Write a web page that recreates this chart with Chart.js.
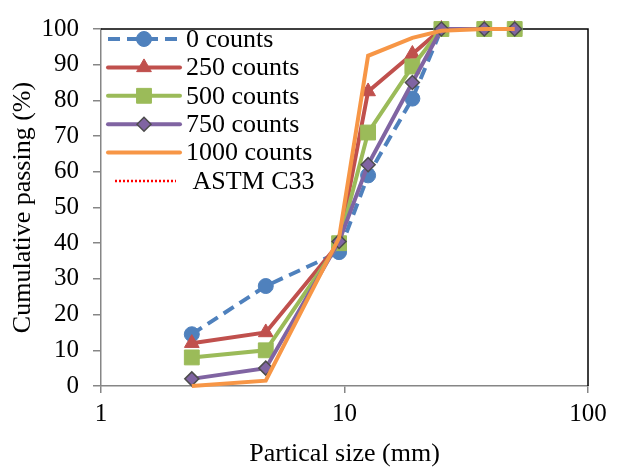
<!DOCTYPE html>
<html>
<head>
<meta charset="utf-8">
<script src="https://cdn.jsdelivr.net/npm/chart.js@4.4.1/dist/chart.umd.min.js"></script>
<style>
  body { margin: 0; background: #fff; }
  #wrap { width: 618px; height: 470px; }
</style>
</head>
<body>
<div id="wrap"><canvas id="gradChart" width="618" height="470"></canvas></div>
<script>
// sieve sizes (mm) and cumulative passing (%) for each number of counts
const sieveSizes = [2.36, 4.75, 9.5, 12.5, 19, 25, 37.5, 50];
const counts0 = [14.5, 28, 37.5, 59, 80.5, 100, 100, 100];
const counts250 = [12, 15, 40, 82.5, 93, 100, 100, 100];
const counts500 = [8, 10, 40, 71, 89.5, 100, 100, 100];
const counts750 = [2, 5, 40.5, 62, 85, 100, 100, 100];
const counts1000 = [0, 1.5, 41.5, 92.5, 97.5, 99.5, 100, 100];
const astmC33 = []; // limits not plotted, only listed in the legend
const seriesNames = ['0 counts', '250 counts', '500 counts', '750 counts', '1000 counts', ' ASTM C33'];
const xTickValues = [1, 10, 100];

const serif = "'Liberation Serif', 'Times New Roman', serif";
Chart.defaults.font.family = serif;
Chart.defaults.color = '#000';

function pts(vals) {
  return vals.map((v, i) => ({ x: sieveSizes[i], y: v }));
}

const datasets = [
  { label: seriesNames[0], data: pts(counts0), borderColor: '#4F81BD', backgroundColor: '#4F81BD',
    borderDash: [12, 7], pointStyle: 'circle', pointRadius: 7.5, pointBorderColor: '#4F81BD' },
  { label: seriesNames[1], data: pts(counts250), borderColor: '#C0504D', backgroundColor: '#C0504D',
    pointStyle: 'triangle', pointRadius: 8.5, pointBorderColor: '#C0504D' },
  { label: seriesNames[2], data: pts(counts500), borderColor: '#9BBB59', backgroundColor: '#9BBB59',
    pointStyle: 'rect', pointRadius: 10.5, pointBorderColor: '#9BBB59' },
  { label: seriesNames[3], data: pts(counts750), borderColor: '#8064A2', backgroundColor: '#8064A2',
    pointStyle: 'rectRot', pointRadius: 7, pointBorderColor: '#4d4d4d', pointBorderWidth: 1.5 },
  { label: seriesNames[4], data: pts(counts1000), borderColor: '#F79646', backgroundColor: '#F79646',
    pointRadius: 0 },
  { label: seriesNames[5], data: astmC33, borderColor: '#FF0000', backgroundColor: '#FF0000',
    borderDash: [2, 2], borderWidth: 2.5, pointRadius: 0 }
];
// later series are painted on top of earlier ones
datasets.forEach((d, i) => {
  d.order = datasets.length - i;
  d.clip = false;
  if (d.borderWidth === undefined) d.borderWidth = 4;
  if (d.pointBorderWidth === undefined) d.pointBorderWidth = 1;
  d.pointHoverRadius = d.pointRadius;
  d.tension = 0;
});

// black frame on top and right of the plot area
const frame = {
  id: 'frame',
  beforeDatasetsDraw(chart) {
    const { ctx, chartArea: a } = chart;
    ctx.save();
    ctx.strokeStyle = '#000';
    ctx.lineWidth = 1.5;
    ctx.beginPath();
    ctx.moveTo(a.left, a.top);
    ctx.lineTo(a.right, a.top);
    ctx.lineTo(a.right, a.bottom);
    ctx.stroke();
    ctx.restore();
  }
};

// legend with line sample + marker, drawn inside the plot
const inLegend = {
  id: 'inLegend',
  afterDraw(chart) {
    const ctx = chart.ctx;
    const x0 = 108, x1 = 180, y0 = 39, rowH = 28.4;
    ctx.save();
    chart.data.datasets.forEach((d, i) => {
      const y = y0 + i * rowH;
      ctx.save();
      ctx.strokeStyle = d.borderColor;
      ctx.lineWidth = d.borderWidth;
      ctx.lineCap = d.borderDash ? 'butt' : 'round';
      ctx.setLineDash(d.borderDash || []);
      ctx.beginPath();
      if (i === 5) { ctx.moveTo(x0 + 7, y); ctx.lineTo(x1 - 4, y); }
      else { ctx.moveTo(x0, y); ctx.lineTo(x1, y); }
      ctx.stroke();
      ctx.restore();
      if (d.pointRadius > 0) {
        ctx.fillStyle = d.backgroundColor;
        ctx.strokeStyle = d.pointBorderColor;
        ctx.lineWidth = d.pointBorderWidth;
        Chart.helpers.drawPoint(ctx, { pointStyle: d.pointStyle, radius: d.pointRadius, borderWidth: d.pointBorderWidth, rotation: 0 },
          (x0 + x1) / 2, y);
      }
      ctx.fillStyle = '#000';
      ctx.font = '26px ' + serif;
      ctx.textBaseline = 'middle';
      ctx.textAlign = 'left';
      ctx.fillText(d.label, 186, y + 1);
    });
    ctx.restore();
  }
};

new Chart(document.getElementById('gradChart'), {
  type: 'line',
  data: { datasets: datasets },
  plugins: [frame, inLegend],
  options: {
    responsive: false,
    animation: false,
    layout: { padding: { top: 21, right: 30, bottom: 0, left: 0 } },
    plugins: { legend: { display: false }, tooltip: { enabled: false } },
    scales: {
      x: {
        type: 'logarithmic',
        min: 1,
        max: 100,
        afterBuildTicks(scale) {
          scale.ticks = xTickValues.map(v => ({ value: v }));
        },
        afterFit(scale) { scale.height = 84; },
        ticks: {
          autoSkip: false,
          maxRotation: 0,
          padding: 6,
          font: { size: 25 },
          callback: v => String(v)
        },
        grid: { drawOnChartArea: false, drawTicks: true, tickLength: 7, color: '#868686', lineWidth: 1.5 },
        border: { color: '#868686', width: 1.5 },
        title: { display: true, text: 'Partical size (mm)', font: { size: 26 }, padding: { top: 0, bottom: 0 } }
      },
      y: {
        min: 0,
        max: 100,
        afterFit(scale) { scale.width = 101; },
        ticks: { stepSize: 10, padding: 14, font: { size: 25 } },
        grid: { drawOnChartArea: false, drawTicks: true, tickLength: 8, color: '#868686', lineWidth: 1.5 },
        border: { color: '#868686', width: 1.5 },
        title: { display: true, text: 'Cumulative passing (%)', font: { size: 26 }, padding: { top: 8, bottom: 0 } }
      }
    }
  }
});
</script>
</body>
</html>
